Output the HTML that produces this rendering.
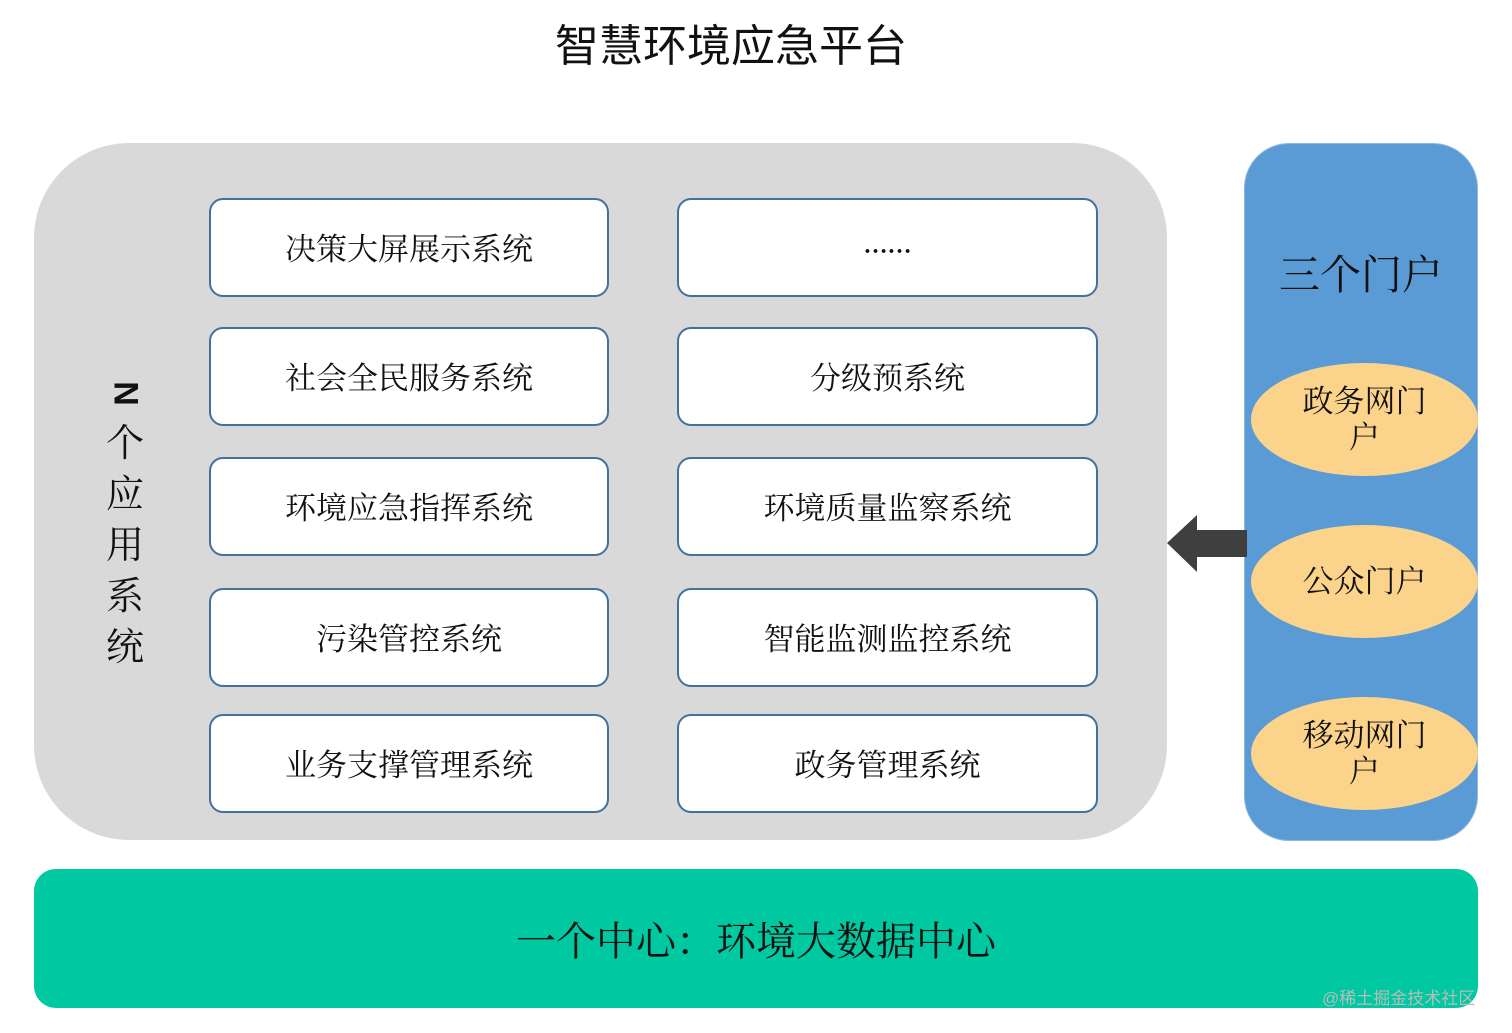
<!DOCTYPE html>
<html><head><meta charset="utf-8"><style>
body{margin:0;width:1512px;height:1033px;background:#fff;position:relative;overflow:hidden;font-family:"Liberation Serif","Noto Serif CJK SC",serif;color:#111}
.a{position:absolute}
.title{left:0;width:1462px;top:10px;text-align:center;font-size:44px;font-family:"Noto Sans CJK SC",sans-serif;font-weight:400}
.gray{left:34px;top:143px;width:1133px;height:697px;background:#d9d9d9;border-radius:95px}
.blue{left:1244px;top:143px;width:232px;height:696px;background:#5b9bd5;border:1px solid #8fb7e0;border-radius:45px}
.box{background:#fff;border:2px solid #41719c;border-radius:14px;box-sizing:border-box;display:flex;align-items:center;justify-content:center;font-size:31px;padding-bottom:2px}
.L{left:209px;width:400px;height:99px}
.R{left:677px;width:421px;height:99px}
.ell{left:1251px;width:227px;height:113px;border-radius:50%;background:#fcd38a;display:flex;align-items:center;justify-content:center;text-align:center;font-size:31px;line-height:36px}
.green{left:34px;top:869px;width:1444px;height:139px;background:#00c8a0;border-radius:22px;display:flex;align-items:center;justify-content:center;font-size:40px}
.vt{left:102px;width:46px;text-align:center;font-size:38px;line-height:51px}
</style></head><body>
<div class="a title">智慧环境应急平台</div>
<div class="a gray"></div>
<div class="a blue"></div>
<div class="a box L" style="top:198px">决策大屏展示系统</div>
<div class="a box L" style="top:327px">社会全民服务系统</div>
<div class="a box L" style="top:457px">环境应急指挥系统</div>
<div class="a box L" style="top:588px">污染管控系统</div>
<div class="a box L" style="top:714px">业务支撑管理系统</div>
<div class="a box R" style="top:198px;font-size:24px;font-weight:bold">……</div>
<div class="a box R" style="top:327px">分级预系统</div>
<div class="a box R" style="top:457px">环境质量监察系统</div>
<div class="a box R" style="top:588px">智能监测监控系统</div>
<div class="a box R" style="top:714px">政务管理系统</div>
<div class="a vt" style="top:368px"><div style="transform:rotate(90deg);font-family:'Liberation Sans',sans-serif;font-weight:bold;font-size:34px">N</div>个<br>应<br>用<br>系<br>统</div>
<div class="a" style="left:1244px;width:234px;top:242px;text-align:center;font-size:41px">三个门户</div>
<div class="a ell" style="top:363px">政务网门<br>户</div>
<div class="a ell" style="top:525px">公众门户</div>
<div class="a ell" style="top:697px">移动网门<br>户</div>
<svg class="a" style="left:1160px;top:510px" width="92" height="70"><polygon points="7,33 37,5 37,20 87,20 87,47 37,47 37,62" fill="#3f3f3f"/></svg>
<div class="a green">一个中心：环境大数据中心</div>
<div class="a" style="left:1322px;top:984px;font-size:17px;color:#bbb;font-family:'Liberation Sans','Noto Sans CJK SC',sans-serif">@稀土掘金技术社区</div>
</body></html>
